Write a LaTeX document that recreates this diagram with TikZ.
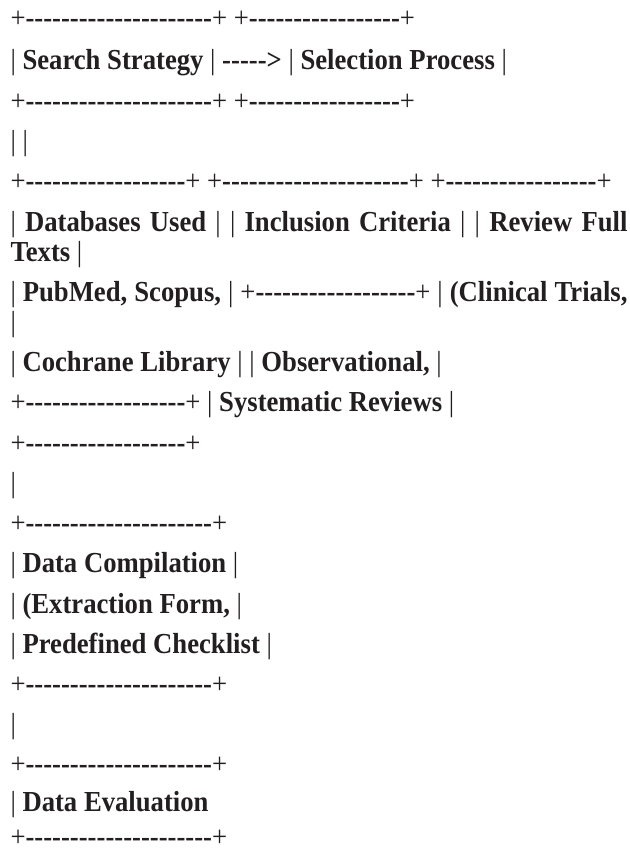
\documentclass[tikz,border=0pt]{standalone}
\usepackage{fontspec}
\newfontfamily\tnr{Liberation Serif}[FakeStretch=0.92]
\newcommand\dsh[1]{\ifnum#1>0 -\expandafter\dsh\expandafter{\the\numexpr#1-1\relax}\fi}
\newcommand\pl{{\mdseries+}}
\newcommand\vb{{\mdseries|}}
\newcommand\bx[1]{\pl\dsh{#1}\pl}
\newcommand\just[1]{\hbox to 617pt{#1}}
\definecolor{ink}{HTML}{231F20}
\tikzset{
  txtline/.style={anchor=base west, inner sep=0pt, outer sep=0pt, font=\tnr\bfseries\fontsize{29pt}{33pt}\selectfont, text=ink},
}
\begin{document}
\begin{tikzpicture}[x=1pt,y=1pt]
\useasboundingbox[fill=white] (0,0) rectangle (629,-853);
\node[txtline] (l1)  at (10.5,-28)    {\bx{21} \bx{17}};
\node[txtline] (l2)  at (10.5,-70)    {\vb{} Search Strategy \vb{} -----> \vb{} Selection Process \vb};
\node[txtline] (l3)  at (10.5,-110.25){\bx{21} \bx{17}};
\node[txtline] (l4)  at (10.5,-150.5) {\vb{} \vb};
\node[txtline] (l5)  at (10.5,-190.75){\bx{18} \bx{21} \bx{17}};
\node[txtline] (l6)  at (10.5,-231)   {\just{\vb{} Databases Used \vb{} \vb{} Inclusion Criteria \vb{} \vb{} Review Full}};
\node[txtline] (l7)  at (10.5,-261)   {Texts \vb};
\node[txtline] (l8)  at (10.5,-301.25){\just{\vb{} PubMed, Scopus, \vb{} \bx{18} \vb{} (Clinical Trials,}};
\node[txtline] (l9)  at (10.5,-331.25){\vb};
\node[txtline] (l10) at (10.5,-371.5) {\vb{} Cochrane Library \vb{} \vb{} Observational, \vb};
\node[txtline] (l11) at (10.5,-411.75){\bx{18} \vb{} Systematic Reviews \vb};
\node[txtline] (l12) at (10.5,-452)   {\bx{18}};
\node[txtline] (l13) at (10.5,-492.25){\vb};
\node[txtline] (l14) at (10.5,-532.5) {\bx{21}};
\node[txtline] (l15) at (10.5,-572.75){\vb{} Data Compilation \vb};
\node[txtline] (l16) at (10.5,-613)   {\vb{} (Extraction Form, \vb};
\node[txtline] (l17) at (10.5,-653.25){\vb{} Predefined Checklist \vb};
\node[txtline] (l18) at (10.5,-693.5) {\bx{21}};
\node[txtline] (l19) at (10.5,-733.75){\vb};
\node[txtline] (l20) at (10.5,-773)   {\bx{21}};
\node[txtline] (l21) at (10.5,-811)   {\vb{} Data Evaluation};
\node[txtline] (l22) at (10.5,-846)   {\bx{21}};
\end{tikzpicture}
\end{document}
